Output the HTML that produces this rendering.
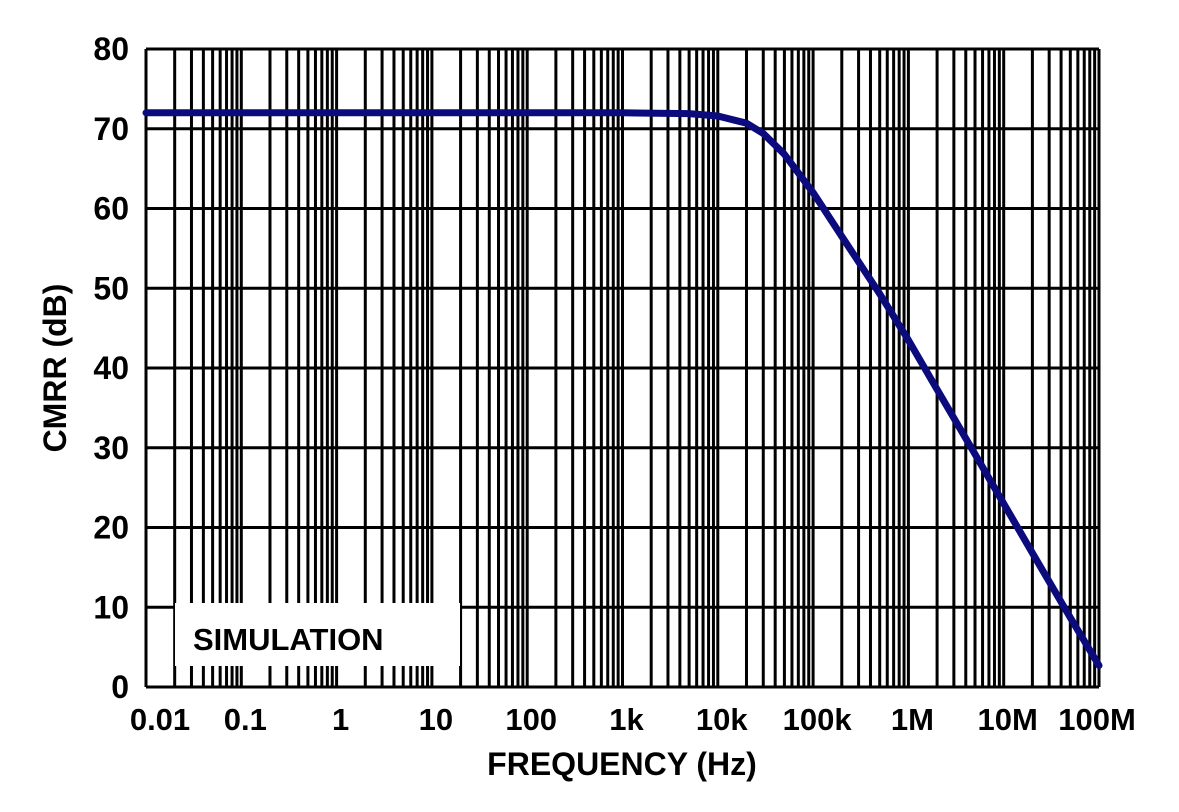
<!DOCTYPE html>
<html><head><meta charset="utf-8"><style>
body{margin:0;background:#fff;}
svg text{font-family:"Liberation Sans",Arial,sans-serif;font-weight:bold;fill:#000;}
</style></head><body>
<svg id="chart" width="1179" height="807" xmlns="http://www.w3.org/2000/svg">
<g id="grid"></g>
<rect x="175" y="603" width="285" height="63" fill="#fff"/>
<text x="193" y="650" font-size="31">SIMULATION</text>
<g id="axes"></g>
<path id="curve" fill="none" stroke="#0b0b7d" stroke-width="7" stroke-linejoin="round" stroke-linecap="round"/>
<text x="622" y="775" font-size="32" text-anchor="middle">FREQUENCY (Hz)</text>
<text transform="translate(66,368) rotate(-90)" font-size="32" text-anchor="middle">CMRR (dB)</text>
</svg>
<script>
const xTickLabels=["0.01","0.1","1","10","100","1k","10k","100k","1M","10M","100M"];
const yTickValues=[0,10,20,30,40,50,60,70,80];
const freqs=[0.01,1000,5000,10000,20000,30000,50000,100000,200000,500000,1e6,2e6,5e6,1e7,2e7,5e7,1e8];
const cmrr=[72,72,71.9,71.6,70.7,69.4,66.8,62,56.5,49.3,43.5,37.3,29.2,23,16.8,8.7,2.7];
const X0=146,X1=1099,Y0=687,Y1=49;
const xs=f=>X0+(Math.log10(f)+2)/10*(X1-X0);
const ys=v=>Y0-v/80*(Y0-Y1);
const NS="http://www.w3.org/2000/svg";
const grid=document.getElementById('grid'),axes=document.getElementById('axes');
function line(p,x1,y1,x2,y2,w){const l=document.createElementNS(NS,'line');
l.setAttribute('x1',x1);l.setAttribute('y1',y1);l.setAttribute('x2',x2);l.setAttribute('y2',y2);
l.setAttribute('stroke','#000');l.setAttribute('stroke-width',w);


p.appendChild(l);}
for(let d=-2;d<8;d++)for(let m=1;m<10;m++){const x=xs(m*Math.pow(10,d));line(grid,x,Y1,x,Y0,3);}
line(grid,X1,Y1,X1,Y0,3);
yTickValues.forEach(v=>{line(grid,X0,ys(v),X1,ys(v),3);
const t=document.createElementNS(NS,'text');t.setAttribute('x',129);t.setAttribute('y',ys(v)+11);
t.setAttribute('font-size','32');t.setAttribute('text-anchor','end');t.textContent=v;


axes.appendChild(t);});
xTickLabels.forEach((s,i)=>{const t=document.createElementNS(NS,'text');
t.setAttribute('x',xs(Math.pow(10,i-2))+(i==0?14:i==10?-2:4));t.setAttribute('y',730);
t.setAttribute('font-size','31');t.setAttribute('text-anchor','middle');t.textContent=s;


axes.appendChild(t);});
line(axes,X0,Y1,X0,Y0,3);line(axes,X0,Y0,X1,Y0,3);
document.getElementById('curve').setAttribute('d',freqs.map((f,i)=>(i?'L':'M')+xs(f).toFixed(1)+','+ys(cmrr[i]).toFixed(1)).join(' '));
</script>
</body></html>
